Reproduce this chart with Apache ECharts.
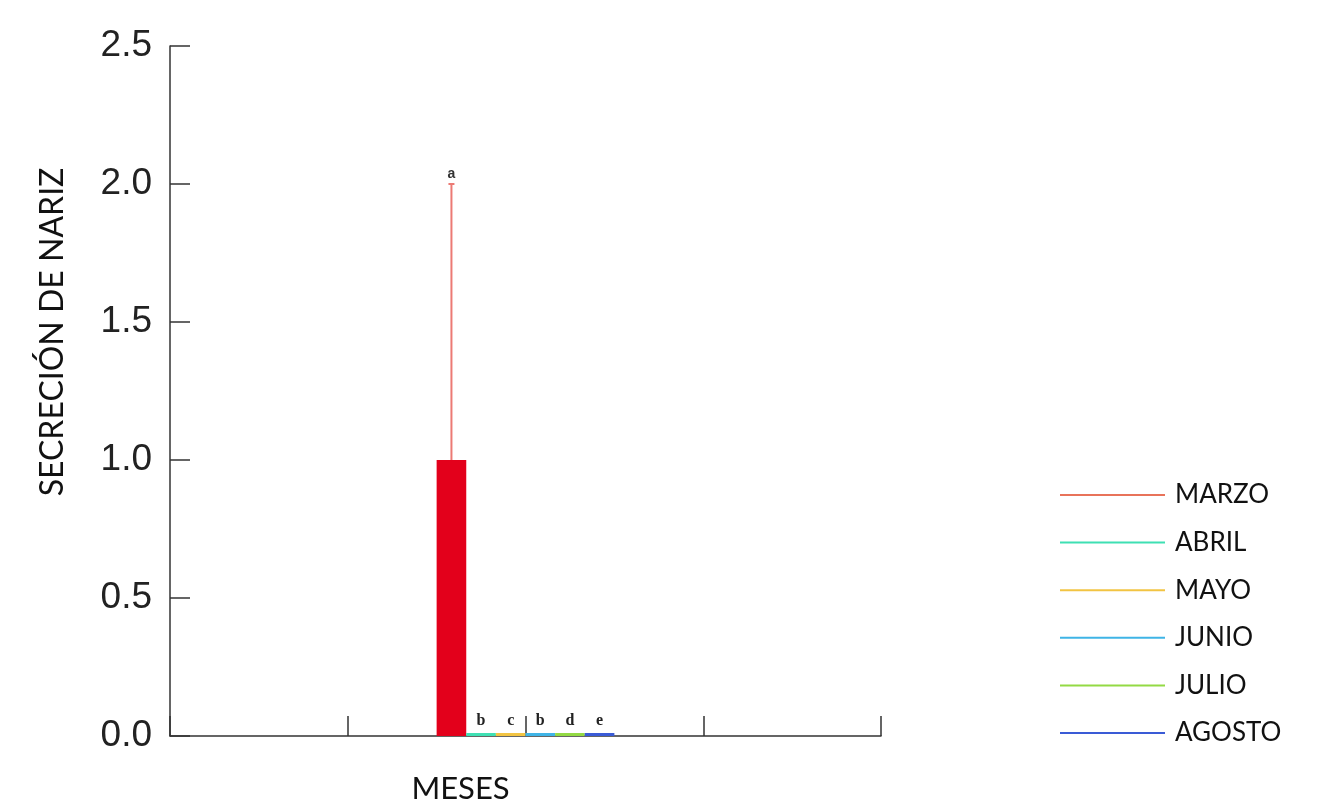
<!DOCTYPE html>
<html>
<head>
<meta charset="utf-8">
<script src="https://cdn.jsdelivr.net/npm/echarts@6/dist/echarts.min.js"></script>
<style>html,body{margin:0;padding:0;background:#fff;}#c{width:1317px;height:803px;}</style>
</head>
<body>
<div id="c"></div>
<script>
// ---- data ----
const categories = ['', '', 'MESES', '', ''];
const groupIndex = 2;
const months = ['MARZO', 'ABRIL', 'MAYO', 'JUNIO', 'JULIO', 'AGOSTO'];
const means = [1.0, 0, 0, 0, 0, 0];
const upper = [2.0, 0, 0, 0, 0, 0];
const letters = ['a', 'b', 'c', 'b', 'd', 'e'];
const yTicks = [0, 0.5, 1.0, 1.5, 2.0, 2.5];
// ---- styles ----
const barColors = ['#e3001b', '#3fe0b3', '#f2c443', '#3fb4e6', '#93da44', '#3a5bd6'];
const legendColors = ['#e8735a', '#3fe0b3', '#f2c443', '#3fb4e6', '#93da44', '#3a5bd6'];
const txtFont = 'Lato';

const chart = echarts.init(document.getElementById('c'));
const n = months.length;

const barSeries = months.map((m, i) => ({
  name: m,
  type: 'bar',
  data: categories.map((c, k) => k === groupIndex ? means[i] : null),
  barGap: '0%',
  barCategoryGap: '0%',
  barMinHeight: 3,
  itemStyle: { color: barColors[i] },
  label: {
    show: i !== 0,
    position: 'top',
    distance: 4,
    formatter: letters[i],
    fontFamily: 'Liberation Serif',
    fontWeight: 'bold',
    fontSize: 16,
    color: '#222'
  },
  z: 3
}));

const errSeries = {
  type: 'custom',
  name: 'err',
  data: means.map((v, i) => [groupIndex, v, upper[i], i]).filter(d => d[2] > d[1]),
  encode: { x: 0, y: [1, 2] },
  renderItem: function (params, api) {
    const idx = api.value(3);
    const band = api.size([1, 0])[0];
    const bw = band / n;
    const base = api.coord([api.value(0), api.value(1)]);
    const top = api.coord([api.value(0), api.value(2)]);
    const x = base[0] + (idx - (n - 1) / 2) * bw;
    const st = { stroke: '#ec7a74', lineWidth: 2 };
    return {
      type: 'group',
      children: [
        { type: 'line', shape: { x1: x, y1: base[1], x2: x, y2: top[1] }, style: st },
        { type: 'line', shape: { x1: x - 3, y1: top[1], x2: x + 3, y2: top[1] }, style: st },
        { type: 'text', x: x, y: top[1] - 3, style: { text: letters[idx], align: 'center', verticalAlign: 'bottom', fontFamily: 'Liberation Sans', fontSize: 14, fontWeight: 'bold', fill: '#333' } }
      ]
    };
  },
  z: 4
};

chart.setOption({
  animation: false,
  backgroundColor: '#fff',
  grid: { left: 170, right: 436, top: 46, bottom: 67, containLabel: false, outerBoundsMode: 'none' },
  legend: {
    orient: 'vertical',
    left: 1060,
    top: 480,
    padding: 0,
    icon: 'rect',
    itemWidth: 105,
    itemHeight: 2,
    itemGap: 17.6,
    textStyle: { fontFamily: txtFont, fontSize: 26, color: '#111', lineHeight: 30, padding: [0, 0, 0, 5] },
    data: months.map((m, i) => ({ name: m, itemStyle: { color: legendColors[i] } }))
  },
  xAxis: {
    type: 'category',
    data: categories,
    boundaryGap: false,
    name: 'MESES',
    nameLocation: 'middle',
    nameGap: 37,
    nameTextStyle: { fontFamily: txtFont, fontSize: 31, color: '#111', padding: [0, 130, 0, 0] },
    axisLine: { lineStyle: { color: '#333', width: 1.5 } },
    axisTick: { inside: true, length: 20, lineStyle: { color: '#333', width: 1.5 }, interval: 0 },
    axisLabel: { show: false },
    splitLine: { show: false }
  },
  yAxis: {
    type: 'value',
    min: yTicks[0],
    max: yTicks[yTicks.length - 1],
    interval: 0.5,
    name: 'SECRECIÓN DE NARIZ',
    nameLocation: 'middle',
    nameGap: 101,
    nameTextStyle: { fontFamily: txtFont, fontSize: 32, color: '#111', padding: [0, 0, 0, 118] },
    axisLine: { show: true, lineStyle: { color: '#333', width: 1.5 } },
    axisTick: { show: true, inside: true, length: 20, lineStyle: { color: '#333', width: 1.5 } },
    axisLabel: { fontFamily: 'Liberation Sans', fontSize: 37, color: '#222', margin: 18, formatter: v => v.toFixed(1) },
    splitLine: { show: false }
  },
  series: barSeries.concat([errSeries])
});
</script>
</body>
</html>
